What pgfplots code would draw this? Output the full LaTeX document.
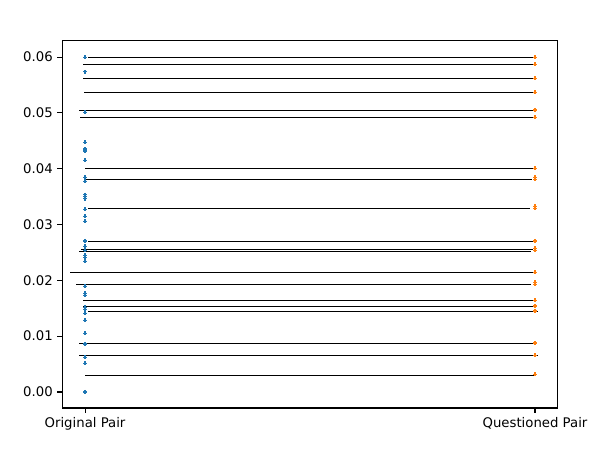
\documentclass[border=0pt]{standalone}
\usepackage{fontspec}
\setmainfont{DejaVu Sans}
\usepackage{pgfplots}
\pgfplotsset{compat=1.18}
\definecolor{mplblue}{HTML}{1F77B4}
\definecolor{mplorange}{HTML}{FF7F0E}
\begin{document}
\begin{tikzpicture}
\useasboundingbox (-46.8pt,-37pt) rectangle (414pt,307.7pt);
\begin{axis}[
  scale only axis, width=374pt, height=277.5pt,
  xmin=-0.0511, xmax=1.051, ymin=-0.00287, ymax=0.06305,
  xtick={0,1}, xticklabels={Original Pair, Questioned Pair},
  ytick={0,0.01,0.02,0.03,0.04,0.05,0.06},
  yticklabel style={/pgf/number format/.cd, fixed, fixed zerofill, precision=2},
  /pgf/number format/assume math mode=true,
  scaled y ticks=false,
  tick align=outside, major tick length=3.5pt,
  xtick pos=left, ytick pos=left,
  every tick/.style={black, line width=0.8pt},
  axis line style={line width=0.8pt},
  tick label style={font=\fontsize{10}{12}\selectfont},
  unbounded coords=jump,
]
\addplot[black, line width=0.6pt] table {
x y
0.0073 0.05995
0.9984 0.05995
nan nan
-0.0044 0.05870
0.9960 0.05870
nan nan
-0.0044 0.05619
0.9984 0.05619
nan nan
-0.0022 0.05368
0.9984 0.05368
nan nan
-0.0133 0.05046
0.9960 0.05046
nan nan
-0.0111 0.04920
0.9984 0.04920
nan nan
0.0000 0.04007
0.9970 0.04007
nan nan
-0.0022 0.03810
0.9940 0.03810
nan nan
0.0073 0.03290
0.9890 0.03290
nan nan
0.0073 0.02705
0.9956 0.02705
nan nan
-0.0090 0.02556
0.9956 0.02556
nan nan
-0.0133 0.02526
0.9910 0.02526
nan nan
-0.0330 0.02144
1.0000 0.02144
nan nan
-0.0200 0.01929
0.9910 0.01929
nan nan
-0.0044 0.01643
1.0050 0.01643
nan nan
-0.0044 0.01540
1.0040 0.01540
nan nan
0.0073 0.01451
1.0060 0.01451
nan nan
-0.0133 0.00878
1.0007 0.00878
nan nan
-0.0133 0.00657
1.0060 0.00657
nan nan
0.0000 0.00299
1.0016 0.00299
};
\addplot[only marks, mark=+, mark size=1.5pt, color=mplblue, mark options={solid, draw=mplblue, line width=0.9pt}] table {
x y
0 0.05995
0 0.05737
0 0.05010
0 0.04473
0 0.04352
0 0.04317
0 0.04150
0 0.03846
0 0.03774
0 0.03534
0 0.03498
0 0.03462
0 0.03272
0 0.03147
0 0.03058
0 0.02705
0 0.02610
0 0.02538
0 0.02449
0 0.02413
0 0.02341
0 0.01890
0 0.01768
0 0.01732
0 0.01517
0 0.01481
0 0.01410
0 0.01284
0 0.01048
0 0.00860
0 0.00622
0 0.00514
0 0.00000
};
\addplot[only marks, mark=+, mark size=1.5pt, color=mplorange, mark options={solid, draw=mplorange, line width=0.9pt}] table {
x y
1 0.05995
1 0.05870
1 0.05619
1 0.05368
1 0.05052
1 0.04920
1 0.04007
1 0.03846
1 0.03810
1 0.03325
1 0.03290
1 0.02705
1 0.02574
1 0.02538
1 0.02144
1 0.01965
1 0.01929
1 0.01643
1 0.01540
1 0.01451
1 0.00878
1 0.00657
1 0.00317
};
\end{axis}
\end{tikzpicture}
\end{document}
